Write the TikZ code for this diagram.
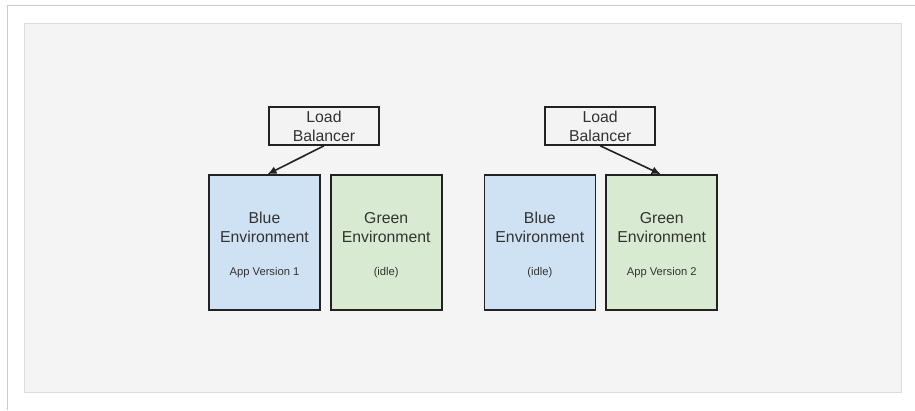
\documentclass[tikz,border=0pt]{standalone}
\usepackage{fontspec}
\setmainfont{Liberation Sans}
\usetikzlibrary{arrows.meta}
\definecolor{outerline}{HTML}{CCCCCC}
\definecolor{panelfill}{HTML}{F4F4F4}
\definecolor{panelline}{HTML}{DDDDDD}
\definecolor{lbfill}{HTML}{F3F3F3}
\definecolor{bluefill}{HTML}{CFE2F3}
\definecolor{greenfill}{HTML}{D9EAD3}
\definecolor{boxline}{HTML}{222222}
\definecolor{txt}{HTML}{333333}
\begin{document}
\begin{tikzpicture}[x=1pt,y=-1pt,
  lbbox/.style={draw=boxline, line width=1.6pt, fill=lbfill, minimum width=110pt, minimum height=38pt, inner sep=0pt, align=center, text=txt, font=\fontsize{15.8}{19}\selectfont},
  envbox/.style={draw=boxline, line width=1.6pt, minimum width=111pt, minimum height=135pt, inner sep=0pt},
  envtext/.style={align=center, inner sep=0pt, text=txt, font=\fontsize{15.8}{19}\selectfont},
  vertext/.style={inner sep=0pt, text=txt, font=\fontsize{11.2}{13}\selectfont},
  conn/.style={draw=boxline, line width=1.6pt, -{Latex[length=9pt,width=8pt]}}]
\useasboundingbox (0,0) rectangle (915,410);
\fill[white] (0,0) rectangle (915,410);
\draw[outerline, line width=1pt] (7.5,410) -- (7.5,5.5) -- (915,5.5);
\draw[fill=panelfill, draw=panelline, line width=1pt] (24.5,23) rectangle (901,392);

% left group
\node[lbbox] (lb1) at (324,126) {Load\\Balancer};
\node[envbox, fill=bluefill] (b1) at (264.5,242.5) {};
\node[envbox, fill=greenfill] (g1) at (386.2,242.5) {};
\node[envtext] (b1t) at (264.5,227.5) {Blue\\Environment};
\node[vertext] (b1v) at (264.5,273) {App Version 1};
\node[envtext] (g1t) at (386.2,227.5) {Green\\Environment};
\node[vertext] (g1v) at (386.2,273) {(idle)};
\draw[conn] (lb1.south) -- ([xshift=3pt]b1.north);

% right group
\node[lbbox] (lb2) at (600.2,126) {Load\\Balancer};
\node[envbox, fill=bluefill] (b2) at (539.8,242.5) {};
\node[envbox, fill=greenfill] (g2) at (661.7,242.5) {};
\node[envtext] (b2t) at (539.8,227.5) {Blue\\Environment};
\node[vertext] (b2v) at (539.8,273) {(idle)};
\node[envtext] (g2t) at (661.7,227.5) {Green\\Environment};
\node[vertext] (g2v) at (661.7,273) {App Version 2};
\draw[conn] (lb2.south) -- ([xshift=-1pt]g2.north);
\end{tikzpicture}
\end{document}
